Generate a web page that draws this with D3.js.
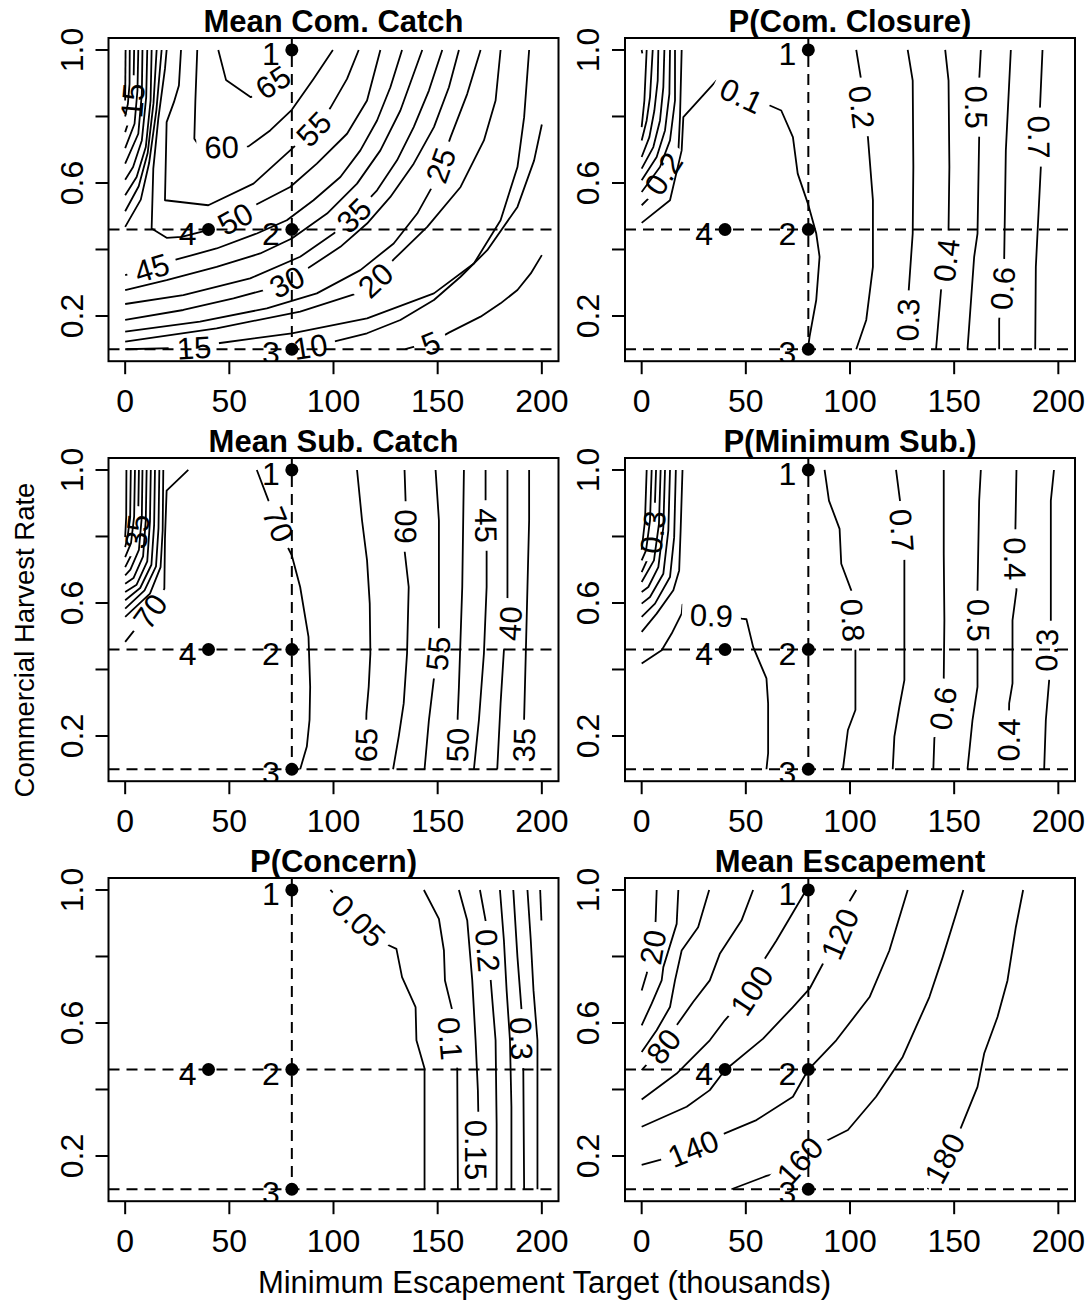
<!DOCTYPE html>
<html>
<head>
<meta charset="utf-8">
<script src="https://cdn.jsdelivr.net/npm/d3@7"></script>
<style>
  html, body { margin: 0; padding: 0; background: #fff; }
  svg { display: block; }
  text { font-family: "Liberation Sans", Arial, Helvetica, sans-serif; fill: #000; }
</style>
</head>
<body>
<svg id="chart" width="1089" height="1313"></svg>
<script>
// ---- axes, reference policies ----
const xTicks = [0, 50, 100, 150, 200];
const yTicks = [0.2, 0.4, 0.6, 0.8, 1.0];
const yTickLabels = ["0.2", "", "0.6", "", "1.0"];
const refX = [80];
const refY = [0.46, 0.1];
const policyIds = ["1", "2", "3", "4"];
const policyX = [80, 80, 80, 40];
const policyY = [1.0, 0.46, 0.1, 0.46];
const panelTitles = ["Mean Com. Catch", "P(Com. Closure)", "Mean Sub. Catch",
                     "P(Minimum Sub.)", "P(Concern)", "Mean Escapement"];
const xTitle = "Minimum Escapement Target (thousands)";
const yTitle = "Commercial Harvest Rate";

// ---- contour lines: level, path in (target, harvest rate), label vertices ----
const comCatch = [
  {level: 5,  pts: [[0,0.848],[0.2,1.0]]},
  {level: 10, pts: [[0,0.800],[1.3,0.838],[2.1,0.898],[2.2,1.0]]},
  {level: 15, pts: [[0,0.753],[2.9,0.808],[3.5,0.848],[4.0,0.888],[4.3,1.0]], at: [2]},
  {level: 20, pts: [[0,0.705],[4.5,0.778],[5.9,0.878],[6.3,1.0]]},
  {level: 25, pts: [[0,0.658],[6.3,0.748],[8.0,0.868],[8.3,1.0]]},
  {level: 30, pts: [[0,0.610],[3.8,0.648],[8.0,0.728],[10.1,0.858],[10.6,1.0]]},
  {level: 35, pts: [[0,0.563],[5.5,0.618],[9.9,0.708],[12.2,0.848],[12.7,1.0]]},
  {level: 40, pts: [[0,0.515],[6.5,0.590],[10.8,0.690],[13.6,0.840],[15.1,1.0]]},
  {level: 45, pts: [[0,0.468],[7.5,0.550],[11.5,0.660],[15.0,0.820],[17.5,1.0]]},
  {level: 50, pts: [[19.9,1.0],[19.1,0.943],[15.9,0.793],[13.5,0.643],[12.7,0.463],[19.9,0.435],[27.1,0.438],[40.7,0.460],[52.8,0.493],[63.2,0.536],[79.2,0.588],[92.0,0.658],[106.5,0.748],[116.1,0.848],[122.5,1.0]], at: [8]},
  {level: 55, pts: [[26.8,1.0],[25.8,0.893],[23.4,0.843],[19.9,0.783],[19.1,0.548],[39.9,0.533],[61.6,0.598],[79.2,0.698],[90.4,0.763],[98.5,0.826],[106.5,0.913],[112.1,1.0]], at: [8]},
  {level: 60, pts: [[34.6,1.0],[33.7,0.848],[33.2,0.733],[35.9,0.708],[46.3,0.709],[59.2,0.710],[69.6,0.758],[80.0,0.820],[90.4,0.913],[99.7,1.0]], at: [4]},
  {level: 65, pts: [[44.7,1.0],[48.4,0.910],[60.3,0.858],[70.9,0.903],[79.2,0.935]], at: [3]},
  {level: 45, pts: [[0,0.323],[12.7,0.345],[24.7,0.370],[43.9,0.403],[63.2,0.448],[77.6,0.488],[90.4,0.548],[103.3,0.618],[112.9,0.698],[120.9,0.788],[127.3,0.888],[132.9,1.0]], at: [1]},
  {level: 40, pts: [[0,0.278],[19.9,0.308],[43.9,0.348],[64.8,0.388],[80.0,0.433],[96.9,0.508],[111.3,0.598],[122.5,0.698],[132.1,0.818],[142.6,1.0]]},
  {level: 35, pts: [[0,0.236],[27.9,0.263],[60.0,0.313],[84.0,0.378],[100.1,0.448],[109.7,0.503],[120.9,0.578],[130.5,0.668],[138.5,0.768],[145.8,0.878],[152.2,1.0]], at: [5]},
  {level: 30, pts: [[0,0.188],[27.9,0.218],[52.0,0.253],[68.0,0.280],[77.6,0.303],[88.8,0.348],[103.3,0.408],[116.1,0.478],[127.3,0.558],[138.5,0.658],[148.2,0.768],[155.4,0.888],[160.2,1.0]], at: [4]},
  {level: 25, pts: [[0,0.153],[35.9,0.183],[68.0,0.223],[92.0,0.268],[112.9,0.338],[128.9,0.418],[140.2,0.508],[148.2,0.598],[151.4,0.653],[156.2,0.738],[164.2,0.868],[170.6,1.0]], at: [8]},
  {level: 20, pts: [[0,0.123],[43.9,0.163],[84.0,0.213],[111.3,0.268],[120.1,0.308],[128.9,0.370],[145.0,0.468],[161.0,0.588],[172.2,0.728],[177.8,0.848],[180.2,1.0]], at: [4]},
  {level: 15, pts: [[0,0.100],[33.0,0.105],[44.7,0.118],[80.0,0.148],[116.1,0.193],[148.2,0.268],[167.4,0.358],[180.2,0.488],[188.3,0.648],[191.5,0.798],[193.9,1.0]], at: [1]},
  {level: 10, pts: [[77.6,0.1],[88.8,0.108],[100.1,0.123],[116.1,0.148],[132.1,0.188],[148.2,0.248],[161.0,0.318],[173.8,0.398],[188.3,0.528],[196.3,0.668],[200,0.776]], at: [1]},
  {level: 5,  pts: [[134.5,0.1],[138.0,0.106],[146.6,0.118],[155.4,0.150],[170.6,0.198],[180.2,0.238],[188.3,0.278],[194.7,0.328],[200,0.383]], at: [2]}
];

const comClosure = [
  {level: 0.9, pts: [[0,1.0],[0.3,0.99]]},
  {level: 0.8, pts: [[0,0.768],[1.3,0.848],[2.4,1.0]]},
  {level: 0.7, pts: [[0,0.728],[2.4,0.788],[4.0,0.858],[5.3,1.0]]},
  {level: 0.6, pts: [[0,0.678],[3.7,0.738],[6.1,0.818],[7.7,0.908],[8.0,1.0]]},
  {level: 0.5, pts: [[0,0.643],[5.6,0.708],[8.8,0.788],[10.4,0.888],[10.9,1.0]]},
  {level: 0.4, pts: [[0,0.608],[7.2,0.678],[11.2,0.758],[13.3,0.868],[13.6,1.0]]},
  {level: 0.3, pts: [[0,0.573],[8.8,0.648],[13.6,0.728],[16.0,0.848],[16.0,1.0]]},
  {level: 0.2, pts: [[0,0.533],[3.2,0.553],[10.4,0.628],[17.6,0.693],[18.4,0.798],[19.2,1.0]], at: [2]},
  {level: 0.1, pts: [[0,0.48],[13.6,0.548],[19.2,0.698],[20.0,0.798],[35.9,0.908],[47.9,0.863],[61.5,0.833],[67.0,0.818],[72.6,0.738],[74.9,0.628],[79.8,0.538],[83.8,0.448],[85.4,0.378],[83.8,0.248],[80.6,0.138],[79.8,0.1]], at: [5]},
  {level: 0.2, pts: [[103.0,1.0],[105.4,0.908],[105.7,0.828],[108.6,0.738],[111.0,0.548],[111.0,0.348],[107.8,0.188],[103.0,0.1]], at: [2]},
  {level: 0.3, pts: [[127.7,1.0],[130.1,0.908],[130.4,0.648],[130.1,0.448],[128.2,0.278],[127.7,0.188],[127.4,0.1]], at: [5]},
  {level: 0.4, pts: [[145.7,1.0],[147.3,0.908],[147.7,0.648],[147.3,0.458],[146.1,0.368],[143.7,0.278],[141.3,0.1]], at: [4]},
  {level: 0.5, pts: [[162.8,1.0],[162.0,0.908],[160.4,0.828],[162.0,0.738],[161.2,0.448],[159.6,0.378],[156.4,0.1]], at: [2]},
  {level: 0.6, pts: [[177.2,1.0],[174.8,0.698],[174.0,0.368],[173.2,0.283],[171.6,0.188],[171.6,0.1]], at: [3]},
  {level: 0.7, pts: [[192.4,1.0],[191.2,0.828],[190.8,0.738],[191.6,0.648],[189.2,0.348],[188.9,0.1]], at: [2]}
];

const subCatch = [
  {level: 20, pts: [[0.6,1.0],[0.5,0.86],[0,0.798]]},
  {level: 25, pts: [[2.7,1.0],[2.4,0.86],[1.2,0.80],[0,0.768]]},
  {level: 30, pts: [[4.7,1.0],[4.3,0.86],[2.8,0.78],[0,0.738]]},
  {level: 35, pts: [[6.6,1.0],[6.3,0.88],[5.6,0.815],[4.2,0.76],[0,0.708]], at: [2]},
  {level: 40, pts: [[8.3,1.0],[8.0,0.86],[6.6,0.76],[2.5,0.70],[0,0.683]]},
  {level: 45, pts: [[10.3,1.0],[9.9,0.85],[8.6,0.74],[4.0,0.675],[0,0.658]]},
  {level: 50, pts: [[12.3,1.0],[11.9,0.845],[10.6,0.725],[5.5,0.655],[0,0.633]]},
  {level: 55, pts: [[14.3,1.0],[13.9,0.835],[12.6,0.715],[7.2,0.645],[0,0.608]]},
  {level: 60, pts: [[16.4,1.0],[16.0,0.825],[14.8,0.71],[9.3,0.638],[0,0.583]]},
  {level: 65, pts: [[18.3,1.0],[18.0,0.818],[17.0,0.708],[11.9,0.628],[0,0.558]]},
  {level: 70, pts: [[0,0.483],[3.8,0.513],[11.9,0.575],[18.8,0.643],[19.1,0.793],[19.9,0.938],[30.3,1.0]], at: [2]},
  {level: 70, pts: [[63.2,1.0],[68.8,0.908],[73.6,0.836],[78.4,0.763],[80.0,0.743],[84.0,0.648],[88.0,0.498],[88.8,0.348],[88.5,0.248],[87.2,0.168],[84.0,0.1]], at: [2]},
  {level: 65, pts: [[111.3,1.0],[113.7,0.848],[116.1,0.728],[117.4,0.598],[117.7,0.448],[116.9,0.348],[115.8,0.268],[115.5,0.173],[115.3,0.1]], at: [7]},
  {level: 60, pts: [[134.1,1.0],[134.6,0.908],[134.4,0.830],[134.2,0.753],[136.1,0.648],[135.3,0.448],[133.7,0.298],[131.3,0.198],[128.6,0.1]], at: [2]},
  {level: 55, pts: [[149.0,1.0],[150.6,0.848],[150.6,0.528],[150.1,0.448],[148.2,0.373],[145.8,0.248],[143.7,0.1]], at: [3]},
  {level: 50, pts: [[162.6,1.0],[161.8,0.648],[160.2,0.348],[159.6,0.258],[159.4,0.173],[159.0,0.1]], at: [4]},
  {level: 45, pts: [[173.0,1.0],[173.0,0.908],[173.3,0.833],[173.5,0.753],[173.5,0.648],[172.2,0.448],[169.8,0.248],[167.4,0.1]], at: [2]},
  {level: 40, pts: [[183.5,1.0],[183.5,0.613],[184.7,0.538],[181.8,0.458],[180.2,0.298],[178.6,0.1]], at: [2]},
  {level: 35, pts: [[193.9,1.0],[193.9,0.848],[193.1,0.648],[192.3,0.448],[191.5,0.253],[191.3,0.173],[191.0,0.1]], at: [5]}
];

const minSub = [
  {level: 0.1, pts: [[2.4,1.0],[1.6,0.848],[0,0.76]]},
  {level: 0.2, pts: [[4.8,1.0],[4.0,0.848],[2.1,0.758],[0,0.728]]},
  {level: 0.3, pts: [[6.9,1.0],[6.2,0.868],[5.3,0.813],[4.0,0.748],[0,0.693]], at: [2]},
  {level: 0.4, pts: [[9.1,1.0],[8.3,0.838],[5.9,0.728],[0,0.663]]},
  {level: 0.5, pts: [[11.2,1.0],[10.4,0.828],[8.0,0.708],[3.2,0.648],[0,0.633]]},
  {level: 0.6, pts: [[13.6,1.0],[12.8,0.818],[10.4,0.688],[4.0,0.618],[0,0.598]]},
  {level: 0.7, pts: [[16.4,1.0],[15.6,0.798],[13.6,0.678],[6.4,0.598],[0,0.558]]},
  {level: 0.8, pts: [[19.6,1.0],[18.7,0.818],[18.0,0.698],[15.2,0.638],[7.2,0.568],[0,0.513]]},
  {level: 0.9, pts: [[0,0.418],[9.6,0.458],[14.4,0.508],[19.2,0.568],[19.6,0.595],[23.0,0.565],[33.5,0.563],[44.0,0.560],[47.9,0.553],[50.3,0.551],[53.5,0.468],[59.9,0.373],[60.7,0.298],[60.7,0.148],[59.9,0.1]], at: [6]},
  {level: 0.8, pts: [[87.8,1.0],[89.9,0.908],[95.0,0.823],[95.8,0.718],[100.6,0.638],[101.4,0.548],[102.6,0.458],[102.6,0.278],[99.0,0.218],[96.6,0.1]], at: [5]},
  {level: 0.7, pts: [[122.1,1.0],[124.0,0.908],[125.0,0.818],[126.1,0.733],[126.1,0.368],[123.7,0.288],[121.3,0.198],[120.5,0.1]], at: [2]},
  {level: 0.6, pts: [[145.0,1.0],[145.0,0.748],[145.3,0.548],[145.0,0.373],[144.5,0.283],[140.5,0.193],[140.0,0.1]], at: [4]},
  {level: 0.5, pts: [[162.8,1.0],[162.0,0.908],[161.2,0.638],[161.7,0.548],[161.2,0.458],[161.2,0.348],[158.8,0.248],[156.4,0.1]], at: [3]},
  {level: 0.4, pts: [[179.9,1.0],[179.4,0.823],[179.3,0.733],[179.9,0.638],[178.0,0.548],[178.0,0.358],[176.4,0.298],[176.1,0.188],[175.8,0.1]], at: [2, 7]},
  {level: 0.3, pts: [[197.9,1.0],[196.4,0.908],[196.4,0.548],[194.3,0.458],[195.6,0.368],[194.0,0.248],[193.2,0.1]], at: [3]}
];

const concern = [
  {level: 0.05, pts: [[98.5,1.0],[112.1,0.908],[125.7,0.836],[130.2,0.823],[132.9,0.738],[139.4,0.648],[139.8,0.548],[143.7,0.463],[143.7,0.1]], at: [1]},
  {level: 0.1,  pts: [[143.4,1.0],[150.6,0.913],[153.0,0.818],[153.5,0.728],[157.0,0.638],[156.2,0.553],[159.4,0.463],[159.7,0.1]], at: [5]},
  {level: 0.15, pts: [[160.2,1.0],[164.2,0.908],[166.6,0.728],[168.2,0.548],[169.3,0.398],[169.5,0.333],[168.5,0.218],[169.6,0.1]], at: [6]},
  {level: 0.2,  pts: [[170.3,1.0],[173.0,0.908],[174.1,0.818],[175.4,0.733],[177.8,0.548],[178.3,0.298],[178.3,0.1]], at: [2]},
  {level: 0.25, pts: [[179.9,1.0],[181.8,0.848],[183.1,0.698],[184.7,0.548],[185.4,0.348],[185.4,0.1]]},
  {level: 0.3,  pts: [[186.3,1.0],[188.3,0.798],[190.2,0.643],[190.2,0.553],[191.1,0.463],[191.5,0.1]], at: [3]},
  {level: 0.35, pts: [[193.1,1.0],[194.7,0.848],[196.0,0.698],[197.9,0.548],[197.9,0.348],[197.9,0.1]]},
  {level: 0.4,  pts: [[199.2,1.0],[199.8,0.908]]}
];

const escapement = [
  {level: 20,  pts: [[7.2,1.0],[6.7,0.908],[5.3,0.828],[2.4,0.748],[0,0.698]], at: [2]},
  {level: 40,  pts: [[17.6,1.0],[16.8,0.898],[10.4,0.768],[9.6,0.728],[4.8,0.658],[0,0.593]]},
  {level: 60,  pts: [[32.4,1.0],[27.1,0.888],[19.2,0.818],[16.0,0.728],[13.6,0.648],[7.2,0.578],[0,0.513]]},
  {level: 80,  pts: [[0,0.458],[10.4,0.53],[16.8,0.593],[24.7,0.663],[32.7,0.728],[37.5,0.808],[47.9,0.908],[53.5,1.0]], at: [1]},
  {level: 100, pts: [[0,0.37],[16.8,0.448],[32.7,0.548],[39.9,0.608],[52.7,0.698],[59.1,0.793],[64.7,0.848],[79.0,1.0]], at: [4]},
  {level: 120, pts: [[0,0.288],[21.6,0.348],[32.7,0.398],[39.9,0.458],[58.3,0.553],[72.6,0.648],[80.6,0.703],[87.0,0.778],[95.0,0.868],[99.5,0.963],[103.0,1.0]], at: [8]},
  {level: 140, pts: [[0,0.173],[8.8,0.188],[24.7,0.223],[39.9,0.268],[55.1,0.308],[72.6,0.378],[79.8,0.458],[93.4,0.548],[109.4,0.678],[118.9,0.818],[127.7,1.0]], at: [2]},
  {level: 160, pts: [[43.1,0.1],[59.9,0.14],[71.8,0.158],[75.8,0.186],[79.8,0.213],[87.8,0.243],[99.0,0.278],[112.5,0.378],[125.3,0.498],[131.7,0.588],[138.1,0.678],[144.5,0.798],[150.9,0.928],[154.4,1.0]], at: [3]},
  {level: 180, pts: [[137.3,0.1],[145.3,0.193],[153.3,0.286],[161.2,0.408],[164.4,0.508],[170.8,0.618],[175.6,0.728],[179.6,0.888],[183.1,1.0]], at: [1]}
];

const panelLines = [comCatch, comClosure, subCatch, minSub, concern, escapement];

// ---- layout ----
const FONT = "'Liberation Sans', Arial, Helvetica, sans-serif";
const boxW = 450, boxH = 323.2;
const colLeft = [108.5, 625];
const rowTop = [38, 458, 878];
const svg = d3.select("#chart");
const defs = svg.append("defs");
const ctx = document.createElement("canvas").getContext("2d");
function textWidth(t, size, weight) {
  ctx.font = (weight || "normal") + " " + size + "px " + FONT;
  return ctx.measureText(t).width;
}
const labelSize = 31;

panelLines.forEach((lines, k) => {
  const col = k % 2, row = Math.floor(k / 2);
  const x0 = colLeft[col], y0 = rowTop[row];
  const x = d3.scaleLinear().domain([-8, 208]).range([x0, x0 + boxW]);
  const y = d3.scaleLinear().domain([0.064, 1.036]).range([y0 + boxH, y0]);
  const g = svg.append("g");

  const clipId = "clip" + k;
  defs.append("clipPath").attr("id", clipId)
    .append("rect").attr("x", x0).attr("y", y0).attr("width", boxW).attr("height", boxH);
  const plot = g.append("g").attr("clip-path", `url(#${clipId})`);

  const lineGen = d3.line();
  lines.forEach((c, i) => {
    const P = c.pts.map(d => [x(d[0]), y(d[1])]);
    const txt = String(c.level);
    // labels follow the local direction of the line, never upside down
    const labs = (c.at || []).map(j => {
      const a = P[Math.max(j - 1, 0)], b = P[Math.min(j + 1, P.length - 1)];
      let ang = Math.atan2(b[1] - a[1], b[0] - a[0]) * 180 / Math.PI;
      if (ang > 90) ang -= 180; else if (ang < -90) ang += 180;
      return {x: P[j][0], y: P[j][1], ang};
    });
    const path = plot.append("path")
      .attr("d", lineGen(P))
      .attr("fill", "none").attr("stroke", "#000")
      .attr("stroke-width", 1.8).attr("stroke-linejoin", "round");
    if (labs.length) {
      // a gap is cut in the line under each of its labels
      const w = textWidth(txt, labelSize) + 16;
      const mid = `m${k}_${i}`;
      const m = defs.append("mask").attr("id", mid).attr("maskUnits", "userSpaceOnUse")
        .attr("x", x0 - 5).attr("y", y0 - 5).attr("width", boxW + 10).attr("height", boxH + 10);
      m.append("rect").attr("x", x0 - 5).attr("y", y0 - 5)
        .attr("width", boxW + 10).attr("height", boxH + 10).attr("fill", "#fff");
      labs.forEach(l => {
        m.append("rect").attr("x", -w / 2).attr("y", -12).attr("width", w).attr("height", 24)
          .attr("fill", "#000")
          .attr("transform", `translate(${l.x},${l.y}) rotate(${l.ang})`);
        plot.append("text")
          .attr("transform", `translate(${l.x},${l.y}) rotate(${l.ang})`)
          .attr("text-anchor", "middle").attr("dy", "0.36em")
          .attr("font-size", labelSize)
          .text(txt);
      });
      path.attr("mask", `url(#${mid})`);
    }
  });

  // reference policy lines
  const dash = "11,7";
  refY.forEach(v => plot.append("line")
    .attr("x1", x0).attr("x2", x0 + boxW).attr("y1", y(v)).attr("y2", y(v))
    .attr("stroke", "#000").attr("stroke-width", 2).attr("stroke-dasharray", dash));
  refX.forEach(v => plot.append("line")
    .attr("x1", x(v)).attr("x2", x(v)).attr("y1", y0).attr("y2", y0 + boxH)
    .attr("stroke", "#000").attr("stroke-width", 2).attr("stroke-dasharray", dash));

  // policy points and their numbers
  policyIds.forEach((id, j) => {
    const cx = x(policyX[j]), cy = y(policyY[j]);
    plot.append("circle").attr("cx", cx).attr("cy", cy).attr("r", 6.5).attr("fill", "#000");
    plot.append("text").attr("x", cx - 12).attr("y", cy + 15)
      .attr("text-anchor", "end").attr("font-size", 32).text(id);
  });

  // frame
  g.append("rect").attr("x", x0).attr("y", y0).attr("width", boxW).attr("height", boxH)
    .attr("fill", "none").attr("stroke", "#000").attr("stroke-width", 2);

  // x axis
  const xb = y0 + boxH;
  xTicks.forEach(v => {
    g.append("line").attr("x1", x(v)).attr("x2", x(v)).attr("y1", xb).attr("y2", xb + 13)
      .attr("stroke", "#000").attr("stroke-width", 2);
    g.append("text").attr("x", x(v)).attr("y", xb + 51)
      .attr("text-anchor", "middle").attr("font-size", 32).text(v);
  });
  // y axis
  yTicks.forEach((v, j) => {
    g.append("line").attr("x1", x0).attr("x2", x0 - 13).attr("y1", y(v)).attr("y2", y(v))
      .attr("stroke", "#000").attr("stroke-width", 2);
    if (yTickLabels[j]) {
      g.append("text")
        .attr("transform", `translate(${x0 - 26},${y(v)}) rotate(-90)`)
        .attr("text-anchor", "middle").attr("font-size", 32).text(yTickLabels[j]);
    }
  });

  // title
  g.append("text").attr("x", x0 + boxW / 2).attr("y", y0 - 6)
    .attr("text-anchor", "middle").attr("font-size", 31).attr("font-weight", "bold")
    .text(panelTitles[k]);
});

// outer axis titles
svg.append("text").attr("x", 544.5).attr("y", 1293)
  .attr("text-anchor", "middle").attr("font-size", 31).text(xTitle);
svg.append("text").attr("transform", "translate(34,640) rotate(-90)")
  .attr("text-anchor", "middle").attr("font-size", 27.5).text(yTitle);
</script>
</body>
</html>
